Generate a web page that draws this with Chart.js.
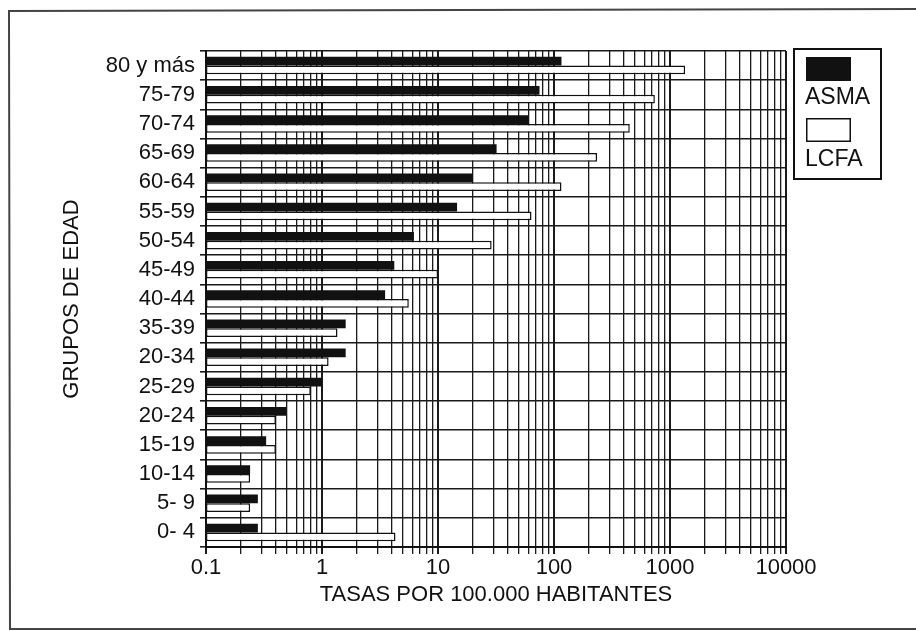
<!DOCTYPE html>
<html>
<head>
<meta charset="utf-8">
<script src="https://cdn.jsdelivr.net/npm/chart.js@4/dist/chart.umd.min.js"></script>
<style>
  html, body { margin: 0; padding: 0; background: #fff; }
  #wrap { width: 916px; height: 631px; }
</style>
</head>
<body>
<div id="wrap"><canvas id="c" width="916" height="631"></canvas></div>
<script>
// Age groups, top to bottom
const categories = ['80 y más', '75-79', '70-74', '65-69', '60-64', '55-59', '50-54', '45-49',
  '40-44', '35-39', '20-34', '25-29', '20-24', '15-19', '10-14', '5- 9', '0- 4'];

// Rates per 100,000 inhabitants
const asma = [116, 75, 60, 32, 20, 14.6, 6.2, 4.2, 3.5, 1.6, 1.6, 1.0, 0.49, 0.33, 0.24, 0.28, 0.28];
const lcfa = [1350, 740, 450, 235, 116, 64, 29, 10, 5.6, 1.36, 1.14, 0.8, 0.40, 0.40, 0.24, 0.24, 4.3];

const seriesNames = ['ASMA', 'LCFA'];

// Decade tick labels on the log axis
const decadeLabels = ['0.1', '1', '10', '100', '1000', '10000'];
const decadeValues = decadeLabels.map(Number);
const minorSteps = [1, 2, 3, 4, 5, 6, 7, 8, 9];

// Log grid positions: 1..9 within each decade, plus the final decade
const gridValues = [];
decadeValues.slice(0, -1).forEach(d => {
  minorSteps.forEach(m => gridValues.push(Number((m * d).toPrecision(6))));
});
gridValues.push(decadeValues[decadeValues.length - 1]);

const FONT = "'Liberation Sans', Arial, Helvetica, sans-serif";
const INK = '#111';

function decadeLabelFor(v) {
  const i = decadeValues.findIndex(d => Math.abs(d - v) / d < 1e-9);
  return i >= 0 ? decadeLabels[i] : '';
}

// Page frame and the boxed legend (swatch above its name)
const framePlugin = {
  id: 'frame',
  beforeDraw(chart) {
    const ctx = chart.ctx;
    ctx.save();
    ctx.fillStyle = '#fff';
    ctx.fillRect(0, 0, chart.width, chart.height);
    ctx.strokeStyle = '#444';
    ctx.lineWidth = 2;
    ctx.beginPath();
    ctx.moveTo(916, 9);
    ctx.lineTo(9, 11);
    ctx.lineTo(10, 629);
    ctx.lineTo(916, 629);
    ctx.stroke();
    ctx.restore();
  },
  afterDraw(chart) {
    const ctx = chart.ctx;
    ctx.save();
    ctx.strokeStyle = INK;
    ctx.lineWidth = 2;
    ctx.strokeRect(794, 49, 87, 130);
    const ds = chart.data.datasets;
    const rows = [
      { sw: 57, text: 98 },
      { sw: 118, text: 160 }
    ];
    ds.forEach((d, i) => {
      const r = rows[i];
      ctx.fillStyle = d.backgroundColor;
      ctx.fillRect(806, r.sw, 45, 24);
      ctx.lineWidth = 1.5;
      ctx.strokeStyle = INK;
      ctx.strokeRect(806.75, r.sw + 0.75, 43.5, 22.5);
      ctx.fillStyle = INK;
      ctx.font = '23px ' + FONT;
      ctx.textBaseline = 'middle';
      ctx.textAlign = 'left';
      ctx.fillText(d.label, 805, r.text);
    });
    ctx.restore();
  }
};

new Chart(document.getElementById('c'), {
  type: 'bar',
  data: {
    labels: categories,
    datasets: [
      {
        label: seriesNames[0],
        data: asma,
        backgroundColor: INK,
        borderColor: INK,
        borderWidth: 0,
        categoryPercentage: 0.6,
        barPercentage: 1.0
      },
      {
        label: seriesNames[1],
        data: lcfa,
        backgroundColor: '#ffffff',
        borderColor: INK,
        borderWidth: 1.5,
        borderSkipped: false,
        categoryPercentage: 0.6,
        barPercentage: 1.0
      }
    ]
  },
  options: {
    indexAxis: 'y',
    responsive: false,
    devicePixelRatio: 1,
    animation: false,
    layout: { padding: { left: 0, right: 130, top: 51, bottom: 0 } },
    plugins: {
      legend: { display: false },
      tooltip: { enabled: false },
      title: { display: false }
    },
    scales: {
      x: {
        type: 'logarithmic',
        position: 'bottom',
        min: 0.1,
        max: 10000,
        afterBuildTicks(scale) {
          scale.ticks = gridValues.map(v => ({ value: v }));
        },
        afterFit(scale) { scale.height = 84; },
        grid: {
          color: '#1a1a1a',
          lineWidth: ctx => (ctx.tick && decadeLabelFor(ctx.tick.value) !== '') ? 2 : 1.3,
          drawTicks: true,
          tickLength: 7,
          tickColor: '#1a1a1a'
        },
        border: { display: true, color: INK, width: 2 },
        ticks: {
          autoSkip: false,
          maxRotation: 0,
          minRotation: 0,
          padding: 1,
          color: INK,
          font: { family: FONT, size: 22 },
          callback: value => decadeLabelFor(value)
        },
        title: {
          display: true,
          text: 'TASAS POR 100.000 HABITANTES',
          color: INK,
          font: { family: FONT, size: 22 },
          padding: { top: 0, bottom: 23 }
        }
      },
      y: {
        type: 'category',
        position: 'left',
        offset: true,
        afterFit(scale) { scale.width = 206; },
        grid: {
          offset: true,
          color: '#1a1a1a',
          lineWidth: 1.6,
          drawTicks: true,
          tickLength: 6,
          tickColor: '#1a1a1a'
        },
        border: { display: true, color: INK, width: 2 },
        ticks: {
          autoSkip: false,
          padding: 5,
          color: INK,
          font: { family: FONT, size: 22 }
        },
        title: {
          display: true,
          text: 'GRUPOS DE EDAD',
          color: INK,
          font: { family: FONT, size: 22 },
          padding: { top: 59, bottom: 0 }
        }
      }
    }
  },
  plugins: [framePlugin]
});
</script>
</body>
</html>
